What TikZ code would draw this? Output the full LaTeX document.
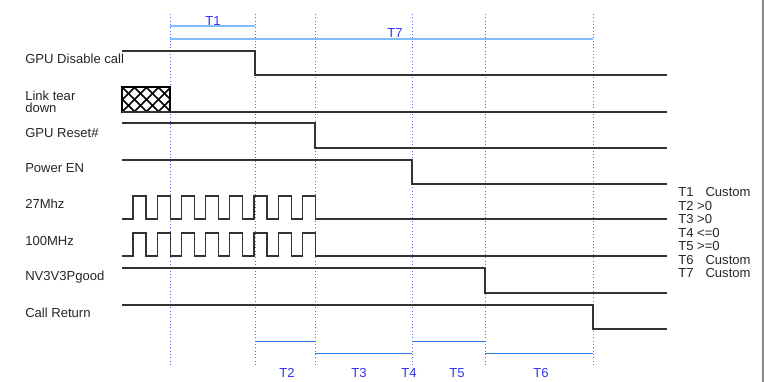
\documentclass[tikz,border=0pt]{standalone}
\usepackage{fontspec}
\setmainfont{Liberation Sans}
\usepackage{tikz}
\usetikzlibrary{positioning}
\definecolor{ink}{HTML}{333333}
\definecolor{guide}{HTML}{5566FF}
\definecolor{spanline}{HTML}{2A78E8}
\definecolor{spanlight}{HTML}{80BBFF}
\definecolor{tblue}{HTML}{3333EE}
\definecolor{edge}{HTML}{888888}
\tikzset{
  sig/.style    = {draw=ink, line width=0.9pt},
  vguide/.style = {draw=guide, dotted, line width=0.5pt},
  span/.style   = {draw=spanline, line width=0.75pt},
  lbl/.style    = {anchor=west, inner sep=0pt, font=\fontsize{9.8}{9}\selectfont, text=black!85},
  tlab/.style   = {inner sep=0pt, font=\fontsize{9.8}{11}\selectfont, text=tblue},
  lgd/.style    = {anchor=west, inner sep=0pt, font=\fontsize{9.8}{11}\selectfont, text=black!85},
}

\begin{document}
\begin{tikzpicture}[x=0.75pt, y=-0.75pt]
    \useasboundingbox (0,0) rectangle (764,382);
    % page edge
    \draw[edge, line width=1pt] (763,0) -- (763,382);
    % dotted guides
    \foreach \x in {170,255,315,412,485,593}
      \draw[vguide] (\x,14) -- (\x,366);
    % spans on top
    \draw[spanlight, line width=0.8pt] (170,26) -- (255,26);
    \draw[spanlight, line width=1.6pt] (170,39) -- (593,39);
    \node[tlab] (t1) at (213,21) {T1};
    \node[tlab] (t7) at (395,33) {T7};
    % signal names
    \node[lbl] (gpudis) at (25,59) {GPU Disable call};
    \node[lbl, align=left] (link) at (25,102) {Link tear\\down};
    \node[lbl] (reset) at (25,133) {GPU Reset\#};
    \node[lbl] (pwren) at (25,168) {Power EN};
    \node[lbl] (clka) at (25,204) {27Mhz};
    \node[lbl] (clkb) at (25,241) {100MHz};
    \node[lbl] (pgood) at (25,277) {NV3V3Pgood};
    \node[lbl] (ret) at (25,313) {Call Return};
    % waveforms
    \draw[sig] (122,51) -- (255,51) -- (255,75) -- (667,75);
    \begin{scope}
      \clip (122,87) rectangle (170,112);
      \foreach \x in {86,98,...,182}{
        \draw[black, line width=1.2pt] (\x,112) -- (\x+25,87);
        \draw[black, line width=1.2pt] (\x,87) -- (\x+25,112);}
    \end{scope}
    \draw[black, line width=1pt] (122,87) rectangle (170,112);
    \draw[sig] (122,112) -- (667,112);
    \draw[sig] (122,123) -- (315,123) -- (315,148) -- (667,148);
    \draw[sig] (122,160) -- (412,160) -- (412,184) -- (667,184);
    \foreach \lo/\hi in {219/196, 256/233}
      \draw[sig] (122,\lo) \foreach \k in {0,...,7}{
          -- ({133+24.2*\k},\lo) -- ({133+24.2*\k},\hi)
          -- ({146+24.2*\k},\hi) -- ({146+24.2*\k},\lo)} -- (667,\lo);
    \draw[sig] (122,268) -- (485,268) -- (485,293) -- (667,293);
    \draw[sig] (122,305) -- (593,305) -- (593,329) -- (667,329);
    % legend
    \foreach \row/\txt in {0/{T1\hspace{9pt}Custom}, 1/{T2 >0}, 2/{T3 >0}, 3/{T4 <=0},
                           4/{T5 >=0}, 5/{T6\hspace{9pt}Custom}, 6/{T7\hspace{9pt}Custom}}
      \node[lgd] (lg\row) at (678,{192+13.5*\row}) {\txt};
    % spans at bottom
    \draw[span] (255,341) -- (315,341);
    \draw[span] (315,353) -- (412,353);
    \draw[span] (412,341) -- (485,341);
    \draw[span] (485,353) -- (593,353);
    \foreach \n/\x in {2/287, 3/359, 4/409, 5/457, 6/541}
      \node[tlab] (t\n) at (\x,373) {T\n};
\end{tikzpicture}
\end{document}
